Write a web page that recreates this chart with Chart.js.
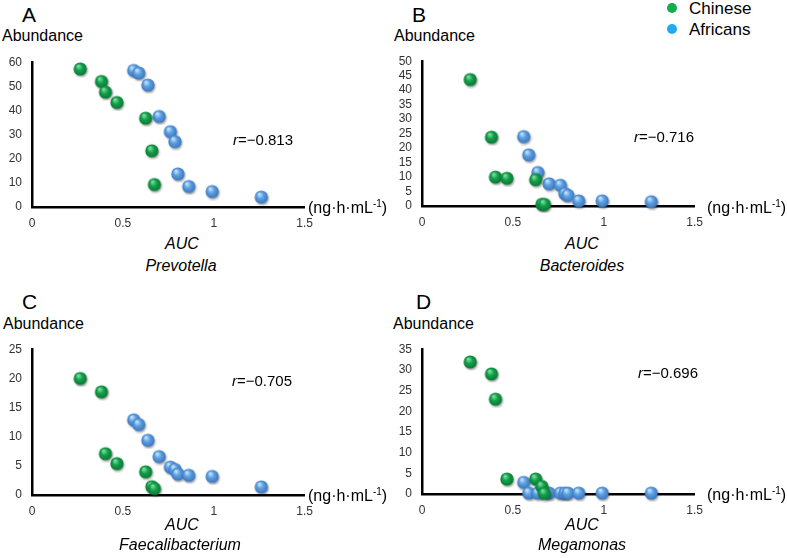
<!DOCTYPE html>
<html lang="en">
<head>
    <meta charset="UTF-8">
    <title>AUC vs Abundance</title>
    <script src="https://cdn.jsdelivr.net/npm/chart.js"></script>
    <style>
        body { margin: 0; background: #fff; font-family: "Liberation Sans", Arial, sans-serif; }
        #fig { position: relative; width: 787px; height: 558px; overflow: hidden; }
        #fig canvas { position: absolute; }
        .txt { position: absolute; white-space: nowrap; color: #000; line-height: 1; }
        .letter { font-size: 21px; }
        .abund { font-size: 16px; }
        .unit { font-size: 16px; }
        .auc { font-size: 16px; font-style: italic; transform: translateX(-50%); }
        .rval { font-size: 15px; }
        .leg { font-size: 17px; }
        .dot { position: absolute; width: 10px; height: 10px; border-radius: 50%; }
    </style>
</head>
<body>
<div id="fig">
    <canvas id="chartA" width="322" height="190" style="left:0;top:45px"></canvas>
    <canvas id="chartB" width="322" height="190" style="left:390px;top:44px"></canvas>
    <canvas id="chartC" width="322" height="191" style="left:0;top:332px"></canvas>
    <canvas id="chartD" width="322" height="190" style="left:390px;top:332px"></canvas>

    <div class="txt letter" style="left:22px;top:4px">A</div>
    <div class="txt letter" style="left:412px;top:4px">B</div>
    <div class="txt letter" style="left:22px;top:291px">C</div>
    <div class="txt letter" style="left:416px;top:291px">D</div>

    <div class="txt abund" style="left:2px;top:28px">Abundance</div>
    <div class="txt abund" style="left:394px;top:28px">Abundance</div>
    <div class="txt abund" style="left:3px;top:316px">Abundance</div>
    <div class="txt abund" style="left:393px;top:316px">Abundance</div>

    <div class="txt unit" style="left:308px;top:199px">(ng·h·mL<sup style="font-size:10px">-1</sup>)</div>
    <div class="txt unit" style="left:707px;top:199px">(ng·h·mL<sup style="font-size:10px">-1</sup>)</div>
    <div class="txt unit" style="left:308px;top:487px">(ng·h·mL<sup style="font-size:10px">-1</sup>)</div>
    <div class="txt unit" style="left:707px;top:486px">(ng·h·mL<sup style="font-size:10px">-1</sup>)</div>

    <div class="txt rval" style="left:233px;top:132px"><i>r</i>=−0.813</div>
    <div class="txt rval" style="left:634px;top:129px"><i>r</i>=−0.716</div>
    <div class="txt rval" style="left:232px;top:373px"><i>r</i>=−0.705</div>
    <div class="txt rval" style="left:638px;top:365px"><i>r</i>=−0.696</div>

    <div class="txt auc" style="left:182px;top:236px">AUC</div>
    <div class="txt auc" style="left:181px;top:258px">Prevotella</div>
    <div class="txt auc" style="left:582px;top:236px">AUC</div>
    <div class="txt auc" style="left:582px;top:258px">Bacteroides</div>
    <div class="txt auc" style="left:182px;top:517px">AUC</div>
    <div class="txt auc" style="left:180px;top:537px">Faecalibacterium</div>
    <div class="txt auc" style="left:582px;top:517px">AUC</div>
    <div class="txt auc" style="left:582px;top:537px">Megamonas</div>

    <div class="dot" style="left:667px;top:3px;background:#13ad4e"></div>
    <div class="txt leg" style="left:689px;top:0px">Chinese</div>
    <div class="dot" style="left:667px;top:24px;background:#22a9ee"></div>
    <div class="txt leg" style="left:689px;top:21px">Africans</div>
</div>
<script>
    // AUC (x) for each subject, shared by all four panels
    const chineseAuc = [0.268, 0.385, 0.407, 0.470, 0.628, 0.662, 0.676];
    const africanAuc = [0.562, 0.590, 0.640, 0.702, 0.764, 0.789, 0.805, 0.865, 0.994, 1.264];

    // abundance per genus
    const prevotellaChinese = [57.0, 51.8, 47.4, 43.1, 36.6, 23.1, 9.1];
    const prevotellaAfrican = [56.4, 55.3, 50.3, 37.3, 31.0, 26.9, 13.5, 8.3, 6.2, 3.9];
    const bacteroidesChinese = [43.5, 23.6, 9.8, 9.4, 8.9, 0.4, 0.4];
    const bacteroidesAfrican = [23.8, 17.5, 11.4, 7.5, 7.0, 4.1, 3.5, 1.6, 1.6, 1.3];
    const faecaliChinese = [19.9, 17.6, 7.0, 5.3, 3.9, 1.35, 1.0];
    const faecaliAfrican = [12.8, 12.0, 9.3, 6.5, 4.7, 4.3, 3.5, 3.3, 3.1, 1.3];
    const megamonasChinese = [31.8, 28.9, 22.8, 3.5, 3.5, 1.7, 0.0];
    const megamonasAfrican = [2.7, 0.1, 0.1, 0.1, 0.1, 0.1, 0.1, 0.1, 0.1, 0.1];

    const xTicks = [0, 0.5, 1, 1.5];

    function esfera(cor, claro, escuro) {
        const c = document.createElement('canvas');
        c.width = 17; c.height = 17;
        const g = c.getContext('2d');
        g.shadowColor = 'rgba(0,0,0,0.35)';
        g.shadowBlur = 2;
        g.shadowOffsetX = 1;
        g.shadowOffsetY = 1.5;
        const grad = g.createRadialGradient(6, 5, 0.5, 8, 8, 7);
        grad.addColorStop(0, claro);
        grad.addColorStop(0.45, cor);
        grad.addColorStop(1, escuro);
        g.fillStyle = grad;
        g.beginPath();
        g.arc(8, 8, 6.6, 0, Math.PI * 2);
        g.fill();
        return c;
    }

    const bolaVerde = esfera('#12a04a', '#7fe0a2', '#0a7434');
    const bolaAzul = esfera('#5b9ee2', '#c4e4fb', '#3a73b8');

    function pares(xs, ys) {
        return xs.map((x, i) => ({ x: x, y: ys[i] }));
    }

    function criarGrafico(id, chinese, african, yMax, yStep) {
        const ctx = document.getElementById(id).getContext('2d');
        new Chart(ctx, {
            type: 'scatter',
            data: {
                datasets: [{
                    label: 'Chinese',
                    data: pares(chineseAuc, chinese),
                    pointStyle: bolaVerde,
                    pointRadius: 7,
                    clip: false
                }, {
                    label: 'Africans',
                    data: pares(africanAuc, african),
                    pointStyle: bolaAzul,
                    pointRadius: 7,
                    clip: false
                }]
            },
            options: {
                responsive: false,
                animation: false,
                layout: { padding: { top: 8, right: 14, left: 0, bottom: 0 } },
                plugins: { legend: { display: false }, tooltip: { enabled: false } },
                scales: {
                    x: {
                        type: 'linear',
                        min: 0,
                        max: 1.5,
                        afterBuildTicks: s => { s.ticks = xTicks.map(v => ({ value: v })); },
                        afterFit: s => { s.height = 28; },
                        grid: { display: false, drawTicks: false },
                        border: { color: '#000', width: 2.5 },
                        ticks: {
                            color: '#333', padding: 9, maxRotation: 0, autoSkip: false,
                            callback: v => String(v),
                            font: { family: 'Liberation Sans', size: 12 }
                        }
                    },
                    y: {
                        min: 0,
                        max: yMax,
                        afterFit: s => { s.width = 32; },
                        grid: { display: false, drawTicks: false },
                        border: { color: '#000', width: 2.5 },
                        ticks: {
                            stepSize: yStep, color: '#333', padding: 10, autoSkip: false,
                            font: { family: 'Liberation Sans', size: 12 }
                        }
                    }
                }
            }
        });
    }

    criarGrafico('chartA', prevotellaChinese, prevotellaAfrican, 60, 10);
    criarGrafico('chartB', bacteroidesChinese, bacteroidesAfrican, 50, 5);
    criarGrafico('chartC', faecaliChinese, faecaliAfrican, 25, 5);
    criarGrafico('chartD', megamonasChinese, megamonasAfrican, 35, 5);
</script>
</body>
</html>
